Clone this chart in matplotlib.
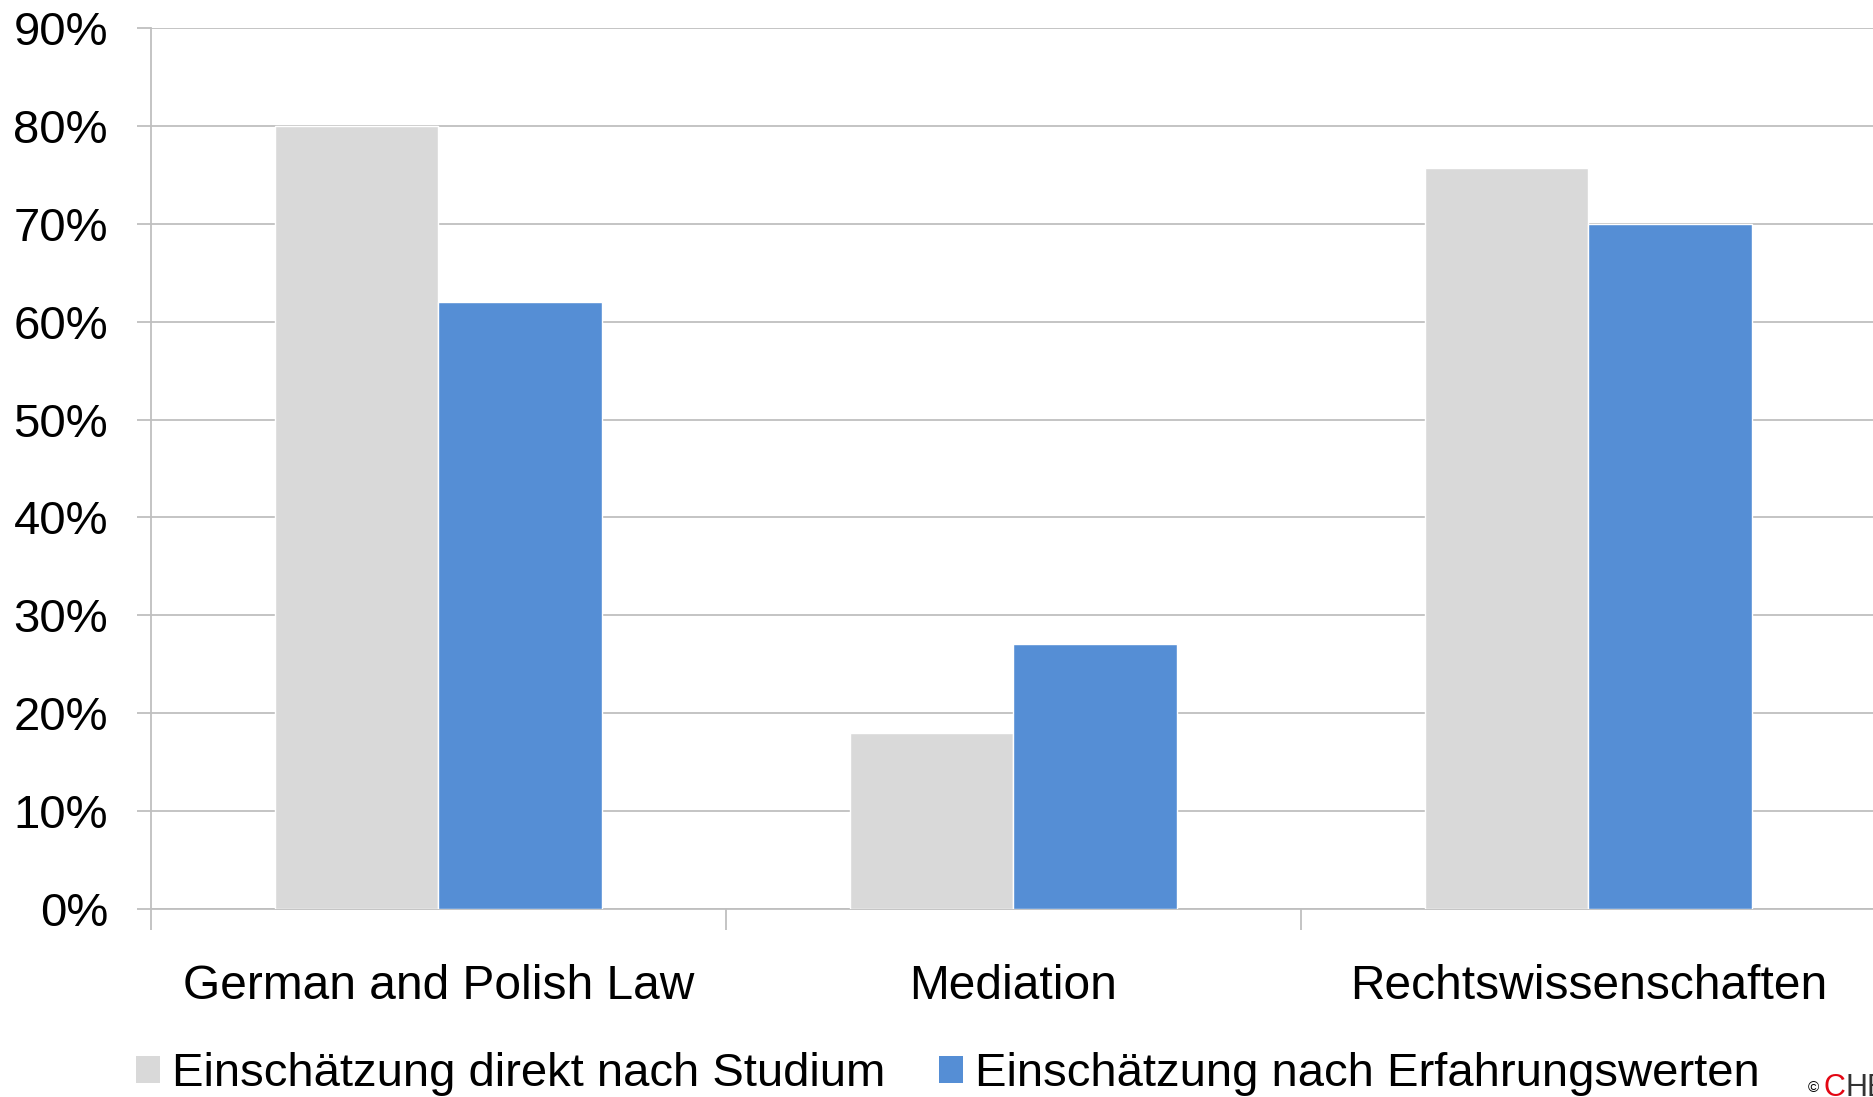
import matplotlib
matplotlib.use("Agg")
import matplotlib.pyplot as plt
from matplotlib.patches import Patch
import numpy as np

categories = ["German and Polish Law", "Mediation", "Rechtswissenschaften"]
series_names = ["Einschätzung direkt nach Studium", "Einschätzung nach Erfahrungswerten"]
direkt = [0.80, 0.18, 0.757]
erfahrung = [0.62, 0.271, 0.70]
yticks = [0, 0.1, 0.2, 0.3, 0.4, 0.5, 0.6, 0.7, 0.8, 0.9]
ytick_labels = ["0%", "10%", "20%", "30%", "40%", "50%", "60%", "70%", "80%", "90%"]

GRAY = "#d9d9d9"
BLUE = "#558ed5"
GRID = "#bfbfbf"
FS = 34

plt.rcParams['font.family'] = ['Liberation Sans', 'DejaVu Sans']

W, H = 1874, 1097
fig = plt.figure(figsize=(W / 100, H / 100), dpi=100)
ax = fig.add_axes([151 / W, 1 - 909 / H, 1 - 151 / W + 0.001, (909 - 28) / H])

x = np.arange(len(categories))
bw = 0.285
ax.bar(x - bw / 2, direkt, bw, color=GRAY, edgecolor="white", linewidth=1, zorder=3)
ax.bar(x + bw / 2, erfahrung, bw, color=BLUE, edgecolor="white", linewidth=1, zorder=3)

ax.set_xlim(-0.5, len(categories) - 0.5)
ax.set_ylim(0, 0.9)
ax.set_yticks(yticks)
ax.set_yticklabels(ytick_labels, fontsize=FS)
ax.yaxis.grid(True, color=GRID, linewidth=1.3, zorder=0)
ax.tick_params(axis='y', length=10, width=1.3, color=GRID, pad=21)

ax.set_xticks(x)
ax.set_xticklabels(categories, fontsize=34.5)
ax.set_xticks(np.arange(-0.5, len(categories)), minor=True)
ax.tick_params(axis='x', which='major', length=0, pad=39.5)
ax.tick_params(axis='x', which='minor', length=15, width=1.3, color=GRID)

for s in ["top", "right"]:
    ax.spines[s].set_visible(False)
for s in ["left", "bottom"]:
    ax.spines[s].set_color(GRID)
    ax.spines[s].set_linewidth(1.3)
ax.set_axisbelow(True)

handles = [Patch(facecolor=GRAY, edgecolor="none"), Patch(facecolor=BLUE, edgecolor="none")]
fig.legend(handles, series_names, loc="center", bbox_to_anchor=(948 / W, 1 - 1074 / H),
           ncol=2, frameon=False, fontsize=FS, handlelength=0.5, handleheight=0.5,
           handletextpad=0.25, columnspacing=1.15, borderpad=0, borderaxespad=0)

fig.text(1808 / W, 1 - 1095 / H, "©", fontsize=11, color="black", va="bottom", ha="left")
fig.text(1824 / W, 1 - 1103 / H, "C", fontsize=22, color="#e30613", va="bottom", ha="left")
fig.text(1846 / W, 1 - 1103 / H, "HE", fontsize=22, color="#333333", va="bottom", ha="left")

fig.savefig("out.png", dpi=100)
